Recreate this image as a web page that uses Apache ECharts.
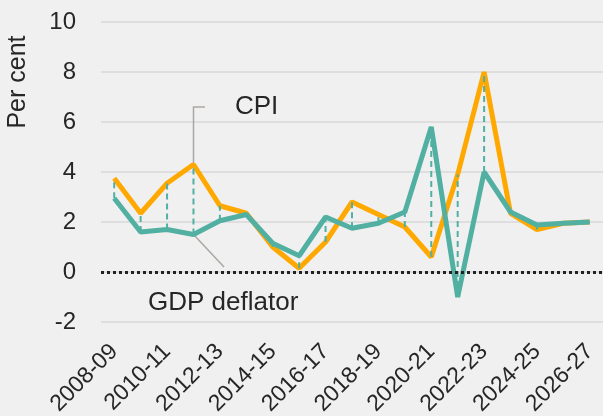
<!DOCTYPE html>
<html>
<head>
<meta charset="utf-8">
<script src="https://cdn.jsdelivr.net/npm/echarts@6/dist/echarts.min.js"></script>
<style>
  html, body { margin: 0; padding: 0; background: #f0f0f0; }
  #chart { width: 603px; height: 416px; }
</style>
</head>
<body>
<div id="chart"></div>
<script>
var years = ['2008-09', '2009-10', '2010-11', '2011-12', '2012-13', '2013-14', '2014-15',
	'2015-16', '2016-17', '2017-18', '2018-19', '2019-20', '2020-21', '2021-22',
	'2022-23', '2023-24', '2024-25', '2025-26', '2026-27'];
var cpi = [3.75, 2.35, 3.55, 4.3, 2.65, 2.35, 1.0, 0.15, 1.2, 2.8, 2.3, 1.8, 0.6, 3.9, 8.0, 2.35, 1.7, 1.95, 2.0];
var deflator = [2.95, 1.6, 1.7, 1.5, 2.05, 2.3, 1.15, 0.65, 2.2, 1.75, 1.95, 2.4, 5.8, -1.0, 4.0, 2.4, 1.88, 1.95, 2.0];
var yTicks = [-2, 0, 2, 4, 6, 8, 10];

var textColor = '#262626';
var orange = '#ffa800';
var teal = '#52b0a2';
var font = 'Liberation Sans, Arial, sans-serif';

// gap between the two series at each year
var gaps = [];
for (var i = 0; i < years.length; i++) {
	gaps.push([i, Math.min(cpi[i], deflator[i]), Math.max(cpi[i], deflator[i])]);
}

var myChart = echarts.init(document.getElementById('chart'));
var option = {
	backgroundColor: '#f0f0f0',
	animation: false,
	grid: { left: 101, right: 0, top: 22, bottom: 94, containLabel: false, outerBoundsMode: 'none' },
	xAxis: {
		type: 'category',
		data: years,
		boundaryGap: true,
		axisLine: { show: false },
		axisTick: { show: false },
		axisLabel: {
			interval: 1,
			rotate: 45,
			margin: 26,
			color: textColor,
			fontSize: 23,
			fontFamily: font
		}
	},
	yAxis: {
		type: 'value',
		min: yTicks[0],
		max: yTicks[yTicks.length - 1],
		interval: 2,
		axisLine: { show: false },
		axisTick: { show: false },
		axisLabel: {
			margin: 25,
			color: textColor,
			fontSize: 24,
			fontFamily: font
		},
		splitLine: { lineStyle: { color: '#d9d9d9', width: 1.5 } }
	},
	graphic: [
		{
			type: 'text', x: 18, y: 82, rotation: Math.PI / 2,
			style: { text: 'Per cent', fill: textColor, fontSize: 25,
				fontFamily: font, align: 'center', verticalAlign: 'middle' }
		},
		{
			type: 'text', x: 235, y: 107,
			style: { text: 'CPI', fill: textColor, fontSize: 26,
				fontFamily: font, verticalAlign: 'middle' }
		},
		{
			type: 'polyline', z: 1,
			shape: { points: [[205, 107], [193.5, 107], [193.5, 164]] },
			style: { stroke: '#aaa6a2', lineWidth: 1.5, fill: null }
		},
		{
			type: 'text', x: 148, y: 303,
			style: { text: 'GDP deflator', fill: textColor, fontSize: 26,
				fontFamily: font, verticalAlign: 'middle' }
		},
		{
			type: 'line', z: 1,
			shape: { x1: 194, y1: 235, x2: 224, y2: 267 },
			style: { stroke: '#aaa6a2', lineWidth: 1.5 }
		}
	],
	series: [
		{
			name: 'CPI',
			type: 'line',
			data: cpi,
			symbol: 'none',
			z: 2,
			lineStyle: { color: orange, width: 5 },
			markLine: {
				silent: true,
				symbol: 'none',
				label: { show: false },
				lineStyle: { color: '#222', width: 3, type: [3, 3] },
				data: [{ yAxis: 0 }]
			}
		},
		{
			name: 'gap',
			type: 'custom',
			data: gaps,
			z: 3,
			renderItem: function (params, api) {
				var a = api.coord([api.value(0), api.value(1)]);
				var b = api.coord([api.value(0), api.value(2)]);
				return {
					type: 'line',
					shape: { x1: a[0], y1: a[1], x2: b[0], y2: b[1] },
					style: { stroke: teal, lineWidth: 2, lineDash: [6, 4] }
				};
			}
		},
		{
			name: 'GDP deflator',
			type: 'line',
			data: deflator,
			symbol: 'none',
			z: 4,
			lineStyle: { color: teal, width: 5 }
		}
	]
};
myChart.setOption(option);
</script>
</body>
</html>
